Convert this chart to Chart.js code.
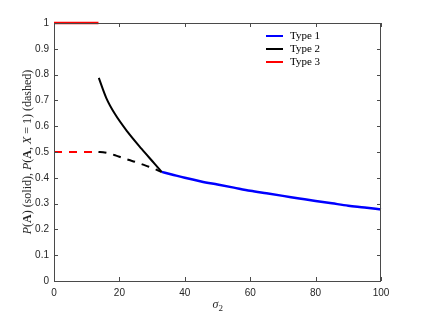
<!DOCTYPE html>
<html lang="en">
<head>
  <meta charset="UTF-8">
  <title>P(A) vs sigma2</title>
  <script src="https://cdn.jsdelivr.net/npm/chart.js"></script>
  <style>
    body { margin: 0; background: #fff; }
  </style>
</head>
<body>
<canvas id="chart" width="421" height="316"></canvas>

<script>
  // values
  const type1X = [32.9, 36, 40, 45, 50, 55, 60, 65, 70, 75, 80, 85, 90, 95, 100];
  const type1Y = [0.423, 0.413, 0.400, 0.386, 0.374, 0.362, 0.350, 0.340, 0.330, 0.320, 0.310, 0.301, 0.292, 0.285, 0.277];

  const type2X = [13.7, 16.0, 18.6, 22.5, 26.8, 30.8, 32.9];
  const type2Solid = [0.787, 0.709, 0.648, 0.578, 0.512, 0.454, 0.423];

  const type2DashX = [13.6, 15, 17, 19, 21, 23, 25, 27, 29, 31, 32.9];
  const type2Dash = [0.500, 0.499, 0.494, 0.486, 0.477, 0.469, 0.461, 0.452, 0.443, 0.433, 0.422];

  const type3X = [0, 13.6];
  const type3Solid = [1, 1];
  const type3Dash = [0.5, 0.5];

  const xTicks = [0, 20, 40, 60, 80, 100];
  const yTicks = [0, 0.1, 0.2, 0.3, 0.4, 0.5, 0.6, 0.7, 0.8, 0.9, 1];
  const yTickLabels = ['0', '0.1', '0.2', '0.3', '0.4', '0.5', '0.6', '0.7', '0.8', '0.9', '1'];

  const legendNames = ['Type 1', 'Type 2', 'Type 3'];
  const legendColors = ['#0000ff', '#000000', '#ff0000'];

  function pts(xs, ys) {
    return xs.map((x, i) => ({ x: x, y: ys[i] }));
  }

  const axisColor = '#4a4a4a';
  const serif = '"Liberation Serif", "DejaVu Serif", serif';

  // box, inward ticks, legend and axis titles
  const decor = {
    id: 'decor',
    afterDraw(chart) {
      const ctx = chart.ctx;
      const a = chart.chartArea;
      const xs = chart.scales.x;
      const ys = chart.scales.y;
      ctx.save();
      ctx.strokeStyle = axisColor;
      ctx.lineWidth = 1;
      ctx.strokeRect(a.left + 0.5, a.top + 0.5, a.right - a.left - 1, a.bottom - a.top);
      ctx.beginPath();
      xTicks.forEach(v => {
        const px = Math.round(xs.getPixelForValue(v)) + 0.5;
        ctx.moveTo(px, a.bottom); ctx.lineTo(px, a.bottom - 4);
        ctx.moveTo(px, a.top); ctx.lineTo(px, a.top + 4);
      });
      yTicks.forEach(v => {
        const py = Math.round(ys.getPixelForValue(v)) + 0.5;
        ctx.moveTo(a.left, py); ctx.lineTo(a.left + 4, py);
        ctx.moveTo(a.right, py); ctx.lineTo(a.right - 4, py);
      });
      ctx.stroke();

      // legend
      ctx.font = '11px ' + serif;
      ctx.textBaseline = 'middle';
      ctx.fillStyle = '#000';
      legendNames.forEach((name, i) => {
        const ly = 36 + i * 13;
        ctx.strokeStyle = legendColors[i];
        ctx.lineWidth = 2;
        ctx.beginPath();
        ctx.moveTo(266, ly); ctx.lineTo(283, ly);
        ctx.stroke();
        ctx.fillText(name, 290, ly);
      });

      // x title: sigma_2
      ctx.fillStyle = '#262626';
      ctx.font = 'italic 12px ' + serif;
      ctx.textBaseline = 'alphabetic';
      const sw = ctx.measureText('σ').width;
      const cx = (a.left + a.right) / 2 - 5;
      ctx.fillText('σ', cx, 308);
      ctx.font = '9px ' + serif;
      ctx.fillText('2', cx + sw, 311);

      // y title with mixed styles
      const parts = [
        ['italic ', 'P'], ['', '('], ['bold ', 'A'], ['', ') (solid), '],
        ['italic ', 'P'], ['', '('], ['bold ', 'A'], ['', ', '], ['italic ', 'X'],
        ['', ' = 1) (dashed)']
      ];
      ctx.save();
      ctx.translate(31, (a.top + a.bottom) / 2);
      ctx.rotate(-Math.PI / 2);
      let total = 0;
      parts.forEach(p => { ctx.font = p[0] + '12px ' + serif; total += ctx.measureText(p[1]).width; });
      let tx = -total / 2;
      parts.forEach(p => {
        ctx.font = p[0] + '12px ' + serif;
        ctx.fillText(p[1], tx, 0);
        tx += ctx.measureText(p[1]).width;
      });
      ctx.restore();
      ctx.restore();
    }
  };

  const ctx = document.getElementById('chart').getContext('2d');
  new Chart(ctx, {
    type: 'line',
    data: {
      datasets: [
        { label: 'Type 3 dashed', data: pts(type3X, type3Dash), borderColor: '#ff0000', borderWidth: 2, borderDash: [8, 7] },
        { label: 'Type 2 dashed', data: pts(type2DashX, type2Dash), borderColor: '#000000', borderWidth: 2, borderDash: [8, 7], cubicInterpolationMode: 'monotone' },
        { label: 'Type 2', data: pts(type2X, type2Solid), borderColor: '#000000', borderWidth: 2, cubicInterpolationMode: 'monotone' },
        { label: 'Type 3', data: pts(type3X, type3Solid), borderColor: '#ff0000', borderWidth: 2.5 },
        { label: 'Type 1', data: pts(type1X, type1Y), borderColor: '#0000ff', borderWidth: 2.5, cubicInterpolationMode: 'monotone' }
      ]
    },
    options: {
      responsive: false,
      animation: false,
      clip: false,
      elements: { point: { radius: 0 }, line: { fill: false } },
      layout: { padding: { top: 23, right: 40, left: 0, bottom: 0 } },
      plugins: { legend: { display: false }, tooltip: { enabled: false } },
      scales: {
        x: {
          type: 'linear',
          min: 0,
          max: 100,
          grid: { display: false, drawTicks: false },
          border: { display: false },
          afterBuildTicks: s => { s.ticks = xTicks.map(v => ({ value: v })); },
          afterFit: s => { s.height = 35; },
          ticks: {
            padding: 6,
            maxRotation: 0,
            color: '#262626',
            font: { family: '"Liberation Sans", Arial, sans-serif', size: 10 },
            callback: v => String(v)
          }
        },
        y: {
          min: 0,
          max: 1,
          grid: { display: false, drawTicks: false },
          border: { display: false },
          afterBuildTicks: s => { s.ticks = yTicks.map(v => ({ value: v })); },
          afterFit: s => { s.width = 54; },
          ticks: {
            padding: 5,
            color: '#262626',
            font: { family: '"Liberation Sans", Arial, sans-serif', size: 10 },
            callback: (v, i) => yTickLabels[i]
          }
        }
      }
    },
    plugins: [decor]
  });
</script>
</body>
</html>
